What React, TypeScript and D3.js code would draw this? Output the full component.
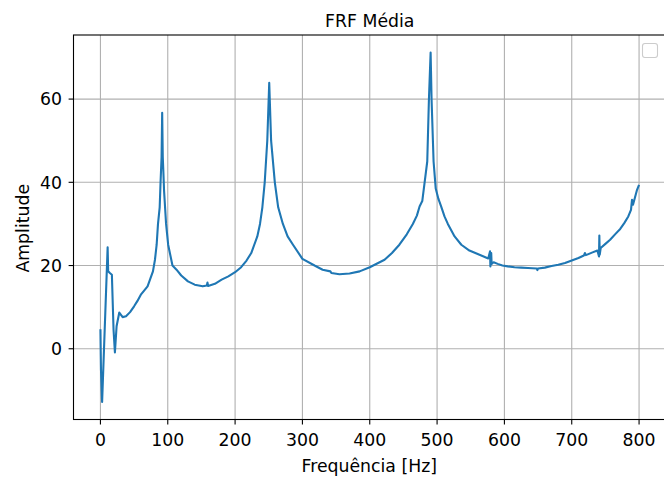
import React from "react";
import * as d3 from "d3";

// averaged FRF
const freqHz = [
  0, 0.8, 2.5, 10.7, 11.5, 14, 17, 19.5, 21.5, 24, 28, 33, 38, 44, 50, 55, 60,
  64, 70, 74, 78, 81, 83.5, 85.5, 88, 89.3, 90.8, 91.7, 92.6, 93.6, 94.5, 97.5,
  100.6, 107, 113, 120, 130, 140, 152, 158, 159, 160, 170, 180, 190, 200, 209,
  217, 224, 233, 237, 240.5, 244, 247.8, 250.7, 253.5, 259, 264, 271, 278, 286,
  300, 318, 330, 341.5, 343, 355, 370, 385, 400, 422, 433, 444, 455, 464, 470,
  474, 478, 481.5, 485.4, 487.9, 490.4, 491.8, 494.8, 498, 502, 506, 511, 516,
  526, 536, 548, 563, 576, 578.6, 579.2, 580.4, 581, 584, 590, 597, 605, 615,
  625, 635, 648, 649, 650, 660, 670, 680, 690, 700, 710, 718, 719.5, 721, 730,
  738, 740.5, 741, 741.6, 743, 750, 757, 765, 772, 778, 784, 788, 789.5, 791,
  794, 797, 800,
];
const amplitude = [
  4.7, -5, -12.8, 24.4, 18.6, 18.2, 17.8, 4.5, -0.9, 5.4, 8.7, 7.6, 7.8, 8.8,
  10.2, 11.5, 13, 13.8, 15, 16.8, 18.6, 21.4, 25, 30, 34, 40, 46, 56.7, 46, 42,
  38, 30, 25, 20, 19, 17.6, 16.2, 15.4, 15, 15.2, 15.9, 15.1, 15.6, 16.6, 17.4,
  18.4, 19.6, 21.2, 23, 27, 30, 34, 40, 50, 63.9, 50, 40, 34, 30, 27, 25, 21.6,
  20, 19, 18.6, 18.2, 17.9, 18.1, 18.6, 19.6, 21.4, 23, 25, 27.5, 30, 32, 34.2,
  35.5, 40, 45, 60, 71.2, 60, 45, 38.5, 36, 34.2, 31.8, 30, 27, 25, 23.6, 22.6,
  21.7, 23.4, 19.8, 23, 20.4, 20.8, 20.4, 20, 19.8, 19.6, 19.5, 19.4, 19.3,
  18.9, 19.3, 19.5, 19.9, 20.2, 20.6, 21.2, 21.8, 22.4, 23, 22.5, 23.1, 23.6,
  22.2, 27.2, 22.6, 24.2, 25.2, 26.2, 27.6, 28.8, 30.2, 31.8, 33.4, 35.8, 34.6,
  36.4, 38.2, 39.4,
];
const xTicks = [0, 100, 200, 300, 400, 500, 600, 700, 800];
const yTicks = [0, 20, 40, 60];

const W = 664;
const H = 482;
const plot = { left: 73.5, right: 666, top: 35, bottom: 419.5 };
const font = "DejaVu Sans, sans-serif";
const tickSize = 17.3;

export default function App() {
  const points = freqHz.map((f, i) => [f, amplitude[i]] as [number, number]);

  // matplotlib-style 5% margins
  const [fMin, fMax] = d3.extent(freqHz) as [number, number];
  const [aMin, aMax] = d3.extent(amplitude) as [number, number];
  const fPad = (fMax - fMin) * 0.05;
  const aPad = (aMax - aMin) * 0.05;

  const x = d3
    .scaleLinear()
    .domain([fMin - fPad, fMax + fPad])
    .range([plot.left, plot.right]);
  const y = d3
    .scaleLinear()
    .domain([aMin - aPad, aMax + aPad])
    .range([plot.bottom, plot.top]);

  const line = d3
    .line<[number, number]>()
    .x((d) => x(d[0]))
    .y((d) => y(d[1]));

  const cx = (plot.left + plot.right) / 2;
  const cy = (plot.top + plot.bottom) / 2;

  return (
    <svg
      width={W}
      height={H}
      style={{ position: "absolute", left: 0, top: 0, background: "#fff" }}
      fontFamily={font}
    >
      <defs>
        <clipPath id="plotClip">
          <rect
            x={plot.left}
            y={plot.top}
            width={plot.right - plot.left}
            height={plot.bottom - plot.top}
          />
        </clipPath>
      </defs>

      {/* grid */}
      {xTicks.map((t) => (
        <line
          key={"gx" + t}
          x1={x(t)}
          x2={x(t)}
          y1={plot.top}
          y2={plot.bottom}
          stroke="#b0b0b0"
          strokeWidth={1.1}
        />
      ))}
      {yTicks.map((t) => (
        <line
          key={"gy" + t}
          x1={plot.left}
          x2={plot.right}
          y1={y(t)}
          y2={y(t)}
          stroke="#b0b0b0"
          strokeWidth={1.1}
        />
      ))}

      <path
        d={line(points) ?? ""}
        fill="none"
        stroke="#1f77b4"
        strokeWidth={2.1}
        strokeLinejoin="round"
        clipPath="url(#plotClip)"
      />

      {/* spines */}
      <rect
        x={plot.left}
        y={plot.top}
        width={plot.right - plot.left}
        height={plot.bottom - plot.top}
        fill="none"
        stroke="#000"
        strokeWidth={1.1}
      />

      {/* x ticks */}
      {xTicks.map((t) => (
        <g key={"tx" + t}>
          <line
            x1={x(t)}
            x2={x(t)}
            y1={plot.bottom}
            y2={plot.bottom + 4.9}
            stroke="#000"
            strokeWidth={1.1}
          />
          <text x={x(t)} y={446} fontSize={tickSize} textAnchor="middle">
            {t}
          </text>
        </g>
      ))}

      {/* y ticks */}
      {yTicks.map((t) => (
        <g key={"ty" + t}>
          <line
            x1={plot.left - 4.9}
            x2={plot.left}
            y1={y(t)}
            y2={y(t)}
            stroke="#000"
            strokeWidth={1.1}
          />
          <text
            x={plot.left - 11.5}
            y={y(t) + 6.3}
            fontSize={tickSize}
            textAnchor="end"
          >
            {t}
          </text>
        </g>
      ))}

      {/* empty legend frame */}
      <rect
        x={642.5}
        y={43.5}
        width={15}
        height={14}
        rx={2.5}
        fill="#fff"
        fillOpacity={0.8}
        stroke="#cccccc"
        strokeWidth={1.1}
      />

      <text x={cx} y={26.5} fontSize={17.3} textAnchor="middle">
        FRF Média
      </text>
      <text x={cx - 0.5} y={471.5} fontSize={tickSize} textAnchor="middle">
        Frequência [Hz]
      </text>
      <text
        transform={`translate(28.5, ${cy + 1}) rotate(-90)`}
        fontSize={tickSize}
        textAnchor="middle"
      >
        Amplitude
      </text>
    </svg>
  );
}
